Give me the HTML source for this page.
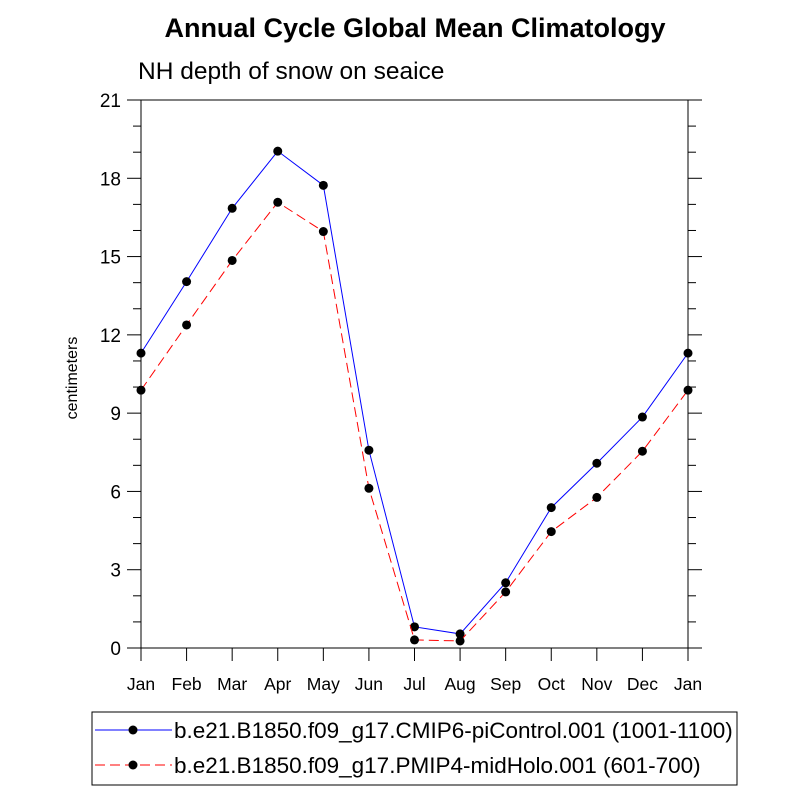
<!DOCTYPE html>
<html><head><meta charset="utf-8"><style>body{margin:0;background:#fff}svg{display:block}text{font-family:"Liberation Sans",sans-serif}</style></head>
<body>
<svg id="c" width="800" height="800">
<text x="415" y="37" font-size="27" font-weight="bold" text-anchor="middle">Annual Cycle Global Mean Climatology</text>
<text x="138" y="79" font-size="24.5">NH depth of snow on seaice</text>
<text transform="translate(77,378) rotate(-90)" font-size="16" text-anchor="middle">centimeters</text>
<rect x="141" y="100" width="547" height="548" fill="none" stroke="#000" stroke-width="1"/>
<g id="ticks"></g><g id="series"></g>
<rect x="92" y="712" width="645" height="73" fill="none" stroke="#000"/>
<g>
<line x1="95" y1="730" x2="172" y2="730" stroke="#00f"/><circle cx="133" cy="730" r="4.5"/>
<text x="174" y="738" font-size="22.5">b.e21.B1850.f09_g17.CMIP6-piControl.001 (1001-1100)</text></g>
<g>
<line x1="95" y1="765" x2="172" y2="765" stroke="#f00" stroke-dasharray="10,5"/><circle cx="133" cy="765" r="4.5"/>
<text x="174" y="773" font-size="22.5">b.e21.B1850.f09_g17.PMIP4-midHolo.001 (601-700)</text></g>
</svg>
<script>
const months=["Jan","Feb","Mar","Apr","May","Jun","Jul","Aug","Sep","Oct","Nov","Dec","Jan"];
const piControl=[11.3,14.04,16.85,19.04,17.73,7.58,0.81,0.54,2.5,5.38,7.08,8.85,11.3];
const midHolo=[9.88,12.38,14.85,17.08,15.96,6.12,0.31,0.27,2.15,4.46,5.77,7.54,9.88];
const yTicks=[0,3,6,9,12,15,18,21];
const NS="http://www.w3.org/2000/svg";
const x=i=>141+i*(547/12), y=v=>648-v*(548/21);
function mk(t,a,p){const e=document.createElementNS(NS,t);for(const k in a)e.setAttribute(k,a[k]);p.appendChild(e);return e;}
const tg=document.getElementById('ticks');
for(let v=0;v<=21;v++){const maj=v%3===0,L=maj?14:8;
 const a=mk('line',{x1:141-L,x2:141,y1:y(v),y2:y(v),stroke:'#000'},tg);
 
 
 const b=mk('line',{x1:688,x2:688+L,y1:y(v),y2:y(v),stroke:'#000'},tg);
 
 }
yTicks.forEach(v=>{const t=mk('text',{x:121,y:y(v)+7,'font-size':19,'text-anchor':'end'},tg);t.textContent=v;
 
 });
months.forEach((m,i)=>{mk('line',{x1:x(i),x2:x(i),y1:648,y2:661,stroke:'#000'},tg);
 const t=mk('text',{x:x(i),y:690,'font-size':17.5,'text-anchor':'middle'},tg);t.textContent=m;
 
 });
const sg=document.getElementById('series');
[[piControl,'#00f',null,'series-picontrol'],[midHolo,'#f00','10,5','series-midholo']].forEach(([d,c,da,n])=>{
 const g=mk('g',{},sg);
 
 
 const p=mk('polyline',{points:d.map((v,i)=>x(i)+','+y(v)).join(' '),fill:'none',stroke:c},g);
 if(da)p.setAttribute('stroke-dasharray',da);
 d.forEach((v,i)=>{const pt=mk('circle',{cx:x(i),cy:y(v),r:4.5,fill:'#000'},g);
  
  });
});
</script>
</body></html>
